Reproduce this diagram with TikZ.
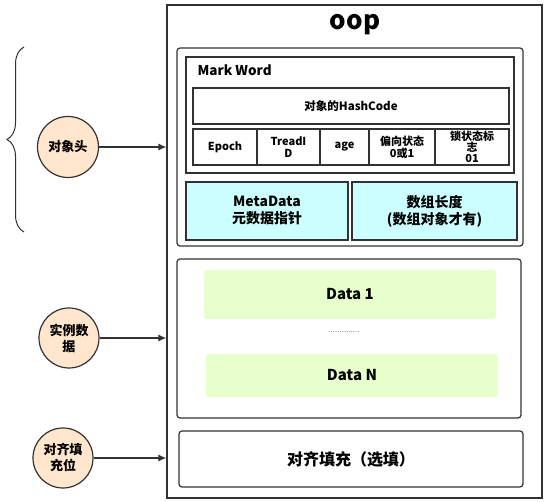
\documentclass[tikz,border=0pt]{standalone}
\usepackage{fontspec}
\setmainfont{Noto Sans CJK SC}
\usepackage{tikz}
\usetikzlibrary{arrows.meta, positioning, calc, decorations.pathreplacing}
\definecolor{linegray}{RGB}{50, 50, 50}
\definecolor{metabg}{RGB}{204, 255, 255}
\definecolor{databg}{RGB}{230, 255, 204}
\definecolor{headbg}{RGB}{255, 230, 204}

\begin{document}
\begin{tikzpicture}[
    x=1pt, y=1pt,
    box/.style={draw=linegray, line width=1.2pt, inner sep=0pt},
    rbox/.style={box, rounded corners=3pt},
    cell/.style={box, minimum height=36pt, font=\fontsize{11}{12}\selectfont\bfseries,
                 align=center},
    meta/.style={box, fill=metabg, minimum height=58pt, align=center,
                 font=\fontsize{14}{17}\selectfont\bfseries},
    datab/.style={fill=databg, rounded corners=3pt, minimum width=292pt,
                  font=\fontsize{15}{17}\selectfont\bfseries},
    tag/.style={circle, draw=linegray, line width=1.2pt, fill=headbg,
                minimum size=61pt, inner sep=0pt, align=center,
                font=\fontsize{13}{16}\selectfont\bfseries},
    arr/.style={line width=1.2pt, draw=linegray, -{Latex[length=8pt, width=7pt]}},
]
\useasboundingbox (0, 0) rectangle (558, 502);

% -- Outer oop box --
\node[box, minimum width=375pt, minimum height=493pt] (oop) at (354.5, 250.5) {};
\node[font=\fontsize{26}{28}\selectfont\bfseries] (title) at (355, 477) {oop};

% -- Object header --
\node[rbox, minimum width=346pt, minimum height=198pt] (head) at (350, 355) {};
\node[box, minimum width=328pt, minimum height=116pt] (mark) at (350, 387) {};
\node[anchor=west, font=\fontsize{13.5}{15}\selectfont\bfseries] (marklbl)
    at (194, 432) {Mark Word};
\node[box, minimum width=316pt, minimum height=36pt,
      font=\fontsize{11.5}{13}\selectfont\bfseries] (hash) at (351, 396) {对象的HashCode};
\node[cell, minimum width=64pt] (epoch) at (225, 355) {Epoch};
\node[cell, minimum width=63pt] (tid) at (288.5, 355) {TreadI\\D};
\node[cell, minimum width=49pt] (age) at (344.5, 355) {age};
\node[cell, minimum width=66pt] (bias) at (402, 355) {偏向状态\\0或1};
\node[cell, minimum width=74pt, font=\fontsize{11}{11}\selectfont\bfseries] (lock)
    at (472, 355) {锁状态标\\志\\01};
\node[meta, minimum width=162pt] (mdata) at (267, 291) {MetaData\\元数据指针};
\node[meta, minimum width=165pt] (alen) at (434.5, 291) {数组长度\\(数组对象才有)};

% -- Instance data --
\node[rbox, minimum width=344pt, minimum height=159pt] (inst) at (349, 163.5) {};
\node[datab, minimum height=49pt] (data1) at (350, 207.5) {Data 1};
\node[font=\fontsize{8}{8}\selectfont, text=gray] (dots) at (344, 170) {..............};
\node[datab, minimum height=43pt] (datan) at (352, 126.5) {Data N};

% -- Padding --
\node[rbox, minimum width=344pt, minimum height=56pt,
      font=\fontsize{16}{18}\selectfont\bfseries] (pad) at (351, 43) {对齐填充（选填）};

% -- Left tags --
\node[tag] (t1) at (68, 355) {对象头};
\node[tag, minimum size=60pt] (t2) at (69, 164) {实例数\\据};
\node[tag, minimum size=60pt] (t3) at (63, 44) {对齐填\\充位};

\draw[arr] (t1) -- (t1 -| oop.west);
\draw[arr] (t2) -- (t2 -| oop.west);
\draw[arr] (t3) -- (t3 -| oop.west);

% -- Brace --
\coordinate (brlo) at (24, 270);
\coordinate (brhi) at (24, 455);
\draw[linegray, line width=1pt,
      decorate, decoration={brace, amplitude=17pt}] (brlo) -- (brhi);

\end{tikzpicture}
\end{document}
